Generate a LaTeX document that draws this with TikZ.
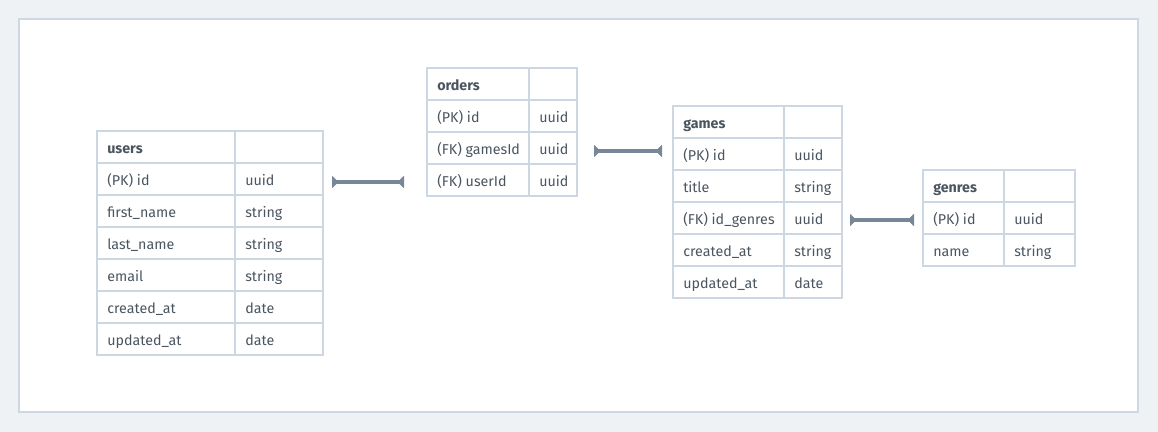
\documentclass[tikz,border=0pt]{standalone}
\usepackage{fontspec}
\setmainfont{Fira Sans}
\usetikzlibrary{arrows.meta}
\definecolor{pagebg}{HTML}{EEF2F5}
\definecolor{framec}{HTML}{CDD8E2}
\definecolor{gridc}{HTML}{CCD7E1}
\definecolor{txtc}{HTML}{4A5560}
\definecolor{linkc}{HTML}{778797}
\tikzset{
  cell/.style={draw=gridc, line width=1.5pt, fill=white, anchor=north west,
    minimum height=32*0.75pt, inner sep=0pt},
  lbl/.style={anchor=west, xshift=11*0.75pt, inner sep=0pt, text=txtc,
    font=\fontsize{10.7}{13}\selectfont, text height=12*0.75pt, text depth=0pt},
  link/.style={draw=linkc, line width=2.3pt, {Triangle[reversed,width=9pt,length=5pt]}-{Triangle[reversed,width=9pt,length=5pt]}},
}
\begin{document}
\begin{tikzpicture}[x=0.75pt,y=-0.75pt]
\fill[pagebg] (0,0) rectangle (1158,432);
\useasboundingbox (0,0) rectangle (1158,432);
\draw[framec, line width=1.5pt, fill=white] (19,19) rectangle (1138,412);

% users
\foreach \i/\a/\b in {0/{\textbf{users}}/{},1/(PK) id/uuid,2/first\_name/string,3/last\_name/string,4/email/string,5/created\_at/date,6/updated\_at/date}{
  \node[cell, minimum width=138*0.75pt, label={[lbl]west:\a}] (users-a\i) at (96,130+32*\i) {};
  \node[cell, minimum width=88*0.75pt, label={[lbl]west:\b}] (users-b\i) at (234,130+32*\i) {};
}
% orders
\foreach \i/\a/\b in {0/{\textbf{orders}}/{},1/(PK) id/uuid,2/(FK) gamesId/uuid,3/(FK) userId/uuid}{
  \node[cell, minimum width=102*0.75pt, label={[lbl]west:\a}] (orders-a\i) at (426,67+32*\i) {};
  \node[cell, minimum width=48*0.75pt, label={[lbl]west:\b}] (orders-b\i) at (528,67+32*\i) {};
}
% games
\foreach \i/\a/\b in {0/{\textbf{games}}/{},1/(PK) id/uuid,2/title/string,3/(FK) id\_genres/uuid,4/created\_at/string,5/updated\_at/date}{
  \node[cell, minimum width=111*0.75pt, label={[lbl]west:\a}] (games-a\i) at (672,105+32*\i) {};
  \node[cell, minimum width=58*0.75pt, label={[lbl]west:\b}] (games-b\i) at (783,105+32*\i) {};
}
% genres
\foreach \i/\a/\b in {0/{\textbf{genres}}/{},1/(PK) id/uuid,2/name/string}{
  \node[cell, minimum width=81*0.75pt, label={[lbl]west:\a}] (genres-a\i) at (922,169+32*\i) {};
  \node[cell, minimum width=71*0.75pt, label={[lbl]west:\b}] (genres-b\i) at (1003,169+32*\i) {};
}

% connectors
\coordinate (c1s) at ([xshift=8*0.75pt,yshift=-3*0.75pt]users-b1.east);
\coordinate (c1e) at ([xshift=-22*0.75pt]orders-a0.west |- c1s);
\draw[link] (c1s) -- (c1e);
\coordinate (c2s) at ([xshift=16*0.75pt,yshift=-3*0.75pt]orders-b2.east);
\coordinate (c2e) at ([xshift=-10*0.75pt]games-a0.west |- c2s);
\draw[link] (c2s) -- (c2e);
\coordinate (c3s) at ([xshift=7*0.75pt,yshift=-2*0.75pt]games-b3.east);
\coordinate (c3e) at ([xshift=-8*0.75pt]genres-a0.west |- c3s);
\draw[link] (c3s) -- (c3e);
\end{tikzpicture}
\end{document}
